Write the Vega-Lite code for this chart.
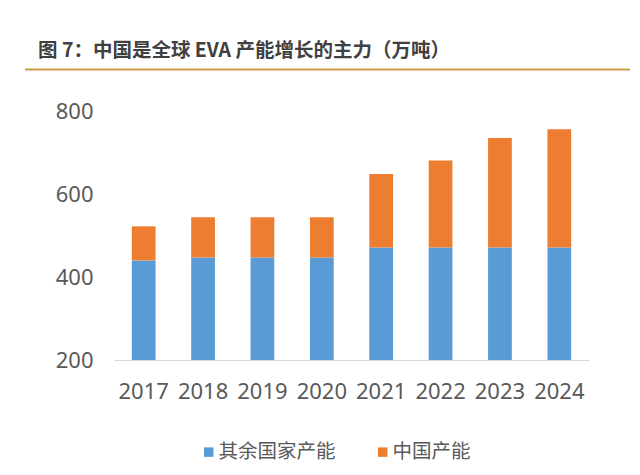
{
  "$schema": "https://vega.github.io/schema/vega-lite/v6.json",
  "autosize": {"type": "none"},
  "width": 475,
  "height": 249,
  "padding": {"left": 114, "top": 111, "right": 51, "bottom": 115},
  "background": "white",
  "config": {
    "view": {"stroke": null},
    "font": "Noto Sans CJK SC"
  },
  "title": {
    "text": "图 7：中国是全球 EVA 产能增长的主力（万吨）",
    "anchor": "start",
    "frame": "group",
    "dx": -76,
    "offset": -8,
    "baseline": "alphabetic",
    "font": "Noto Sans CJK SC",
    "fontSize": 19.5,
    "fontWeight": "bold",
    "color": "#404040"
  },
  "layer": [
    {
      "data": {
        "values": [
          {"year": "2017", "series": "其余国家产能", "value": 440},
          {"year": "2017", "series": "中国产能", "value": 82},
          {"year": "2018", "series": "其余国家产能", "value": 447},
          {"year": "2018", "series": "中国产能", "value": 97},
          {"year": "2019", "series": "其余国家产能", "value": 447},
          {"year": "2019", "series": "中国产能", "value": 97},
          {"year": "2020", "series": "其余国家产能", "value": 447},
          {"year": "2020", "series": "中国产能", "value": 97},
          {"year": "2021", "series": "其余国家产能", "value": 471},
          {"year": "2021", "series": "中国产能", "value": 177},
          {"year": "2022", "series": "其余国家产能", "value": 471},
          {"year": "2022", "series": "中国产能", "value": 210},
          {"year": "2023", "series": "其余国家产能", "value": 471},
          {"year": "2023", "series": "中国产能", "value": 264},
          {"year": "2024", "series": "其余国家产能", "value": 471},
          {"year": "2024", "series": "中国产能", "value": 285}
        ]
      },
      "mark": {"type": "bar", "clip": true},
      "encoding": {
        "x": {
          "field": "year",
          "type": "nominal",
          "scale": {"paddingInner": 0.6, "paddingOuter": 0.3},
          "axis": {
            "title": null,
            "labelAngle": 0,
            "ticks": false,
            "domainColor": "#D9D9D9",
            "domainWidth": 1.2,
            "labelFont": "Noto Sans",
            "labelFontSize": 22,
            "labelColor": "#595959",
            "labelPadding": 21
          }
        },
        "y": {
          "field": "value",
          "type": "quantitative",
          "stack": "zero",
          "scale": {"domain": [200, 800], "zero": false, "nice": false},
          "axis": {
            "title": null,
            "values": [200, 400, 600, 800],
            "grid": false,
            "domain": false,
            "ticks": false,
            "labelFont": "Noto Sans",
            "labelFontSize": 22,
            "labelColor": "#595959",
            "labelPadding": 21
          }
        },
        "color": {
          "field": "series",
          "type": "nominal",
          "sort": ["其余国家产能", "中国产能"],
          "scale": {"domain": ["其余国家产能", "中国产能"], "range": ["#5B9BD5", "#ED7D31"]},
          "legend": {
            "title": null,
            "orient": "none",
            "direction": "horizontal",
            "legendX": 85,
            "legendY": 331,
            "padding": 0,
            "symbolType": "square",
            "symbolSize": 90,
            "symbolStrokeWidth": 0,
            "labelFont": "Noto Sans CJK SC",
            "labelFontSize": 19.5,
            "labelColor": "#595959",
            "labelOffset": 0,
            "columnPadding": 37
          }
        }
      }
    },
    {
      "data": {"values": [{}]},
      "mark": {"type": "rule", "color": "#D09A4E", "strokeWidth": 2},
      "encoding": {
        "x": {"datum": -0.1874, "type": "quantitative", "scale": {"domain": [0, 1]}, "axis": null},
        "x2": {"datum": 1.0863},
        "y": {"datum": 900, "type": "quantitative"}
      }
    }
  ],
  "resolve": {"scale": {"x": "independent"}}
}
